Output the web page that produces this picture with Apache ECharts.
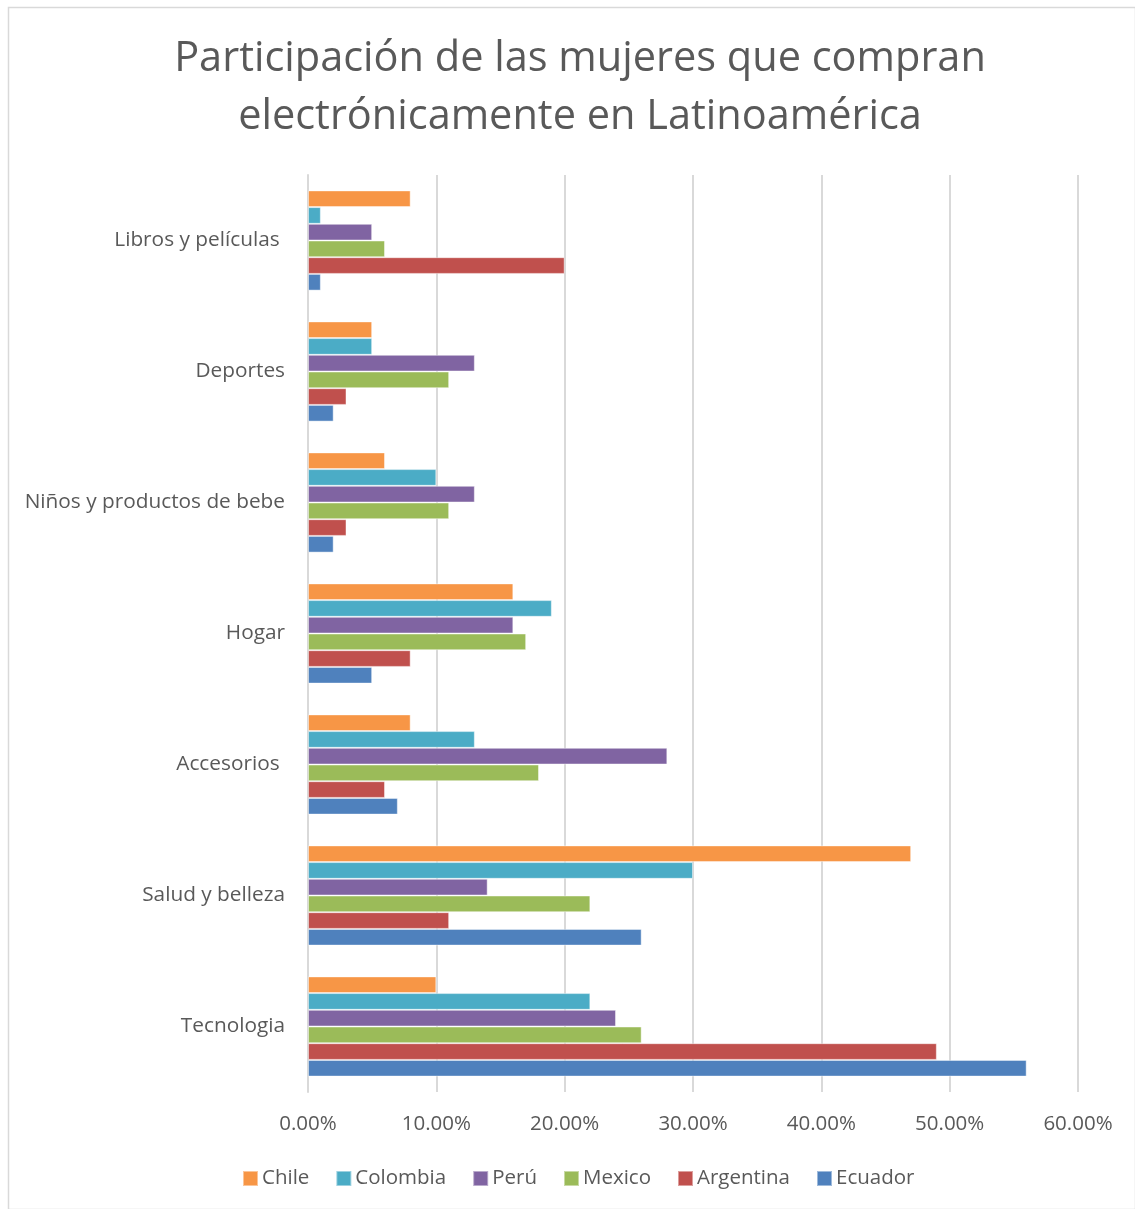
<!DOCTYPE html>
<html>
<head>
<meta charset="utf-8">
<script src="https://cdn.jsdelivr.net/npm/echarts@6/dist/echarts.min.js"></script>
<style>
  html, body { margin: 0; padding: 0; background: #fff; }
  #chart { width: 1135px; height: 1209px; }
</style>
</head>
<body>
<div id="chart"></div>
<script>
// categories bottom -> top
const categories = ['Tecnologia', 'Salud y belleza', 'Accesorios ', 'Hogar', 'Niños y productos de bebe', 'Deportes', 'Libros y películas '];

// values in %, same order as categories
const chile     = [10, 47, 8, 16, 6, 5, 8];
const colombia  = [22, 30, 13, 19, 10, 5, 1];
const peru      = [24, 14, 28, 16, 13, 13, 5];
const mexico    = [26, 22, 18, 17, 11, 11, 6];
const argentina = [49, 11, 6, 8, 3, 3, 20];
const ecuador   = [56, 26, 7, 5, 2, 2, 1];

const xTicks = [0, 10, 20, 30, 40, 50, 60];

const font = '"Open Sans", sans-serif';
const textColor = '#595959';

// first series sits at the top of each group
const seriesDefs = [
  { name: 'Chile',     data: chile,     color: '#F79646' },
  { name: 'Colombia',  data: colombia,  color: '#4BACC6' },
  { name: 'Perú',      data: peru,      color: '#8064A2' },
  { name: 'Mexico',    data: mexico,    color: '#9BBB59' },
  { name: 'Argentina', data: argentina, color: '#C0504D' },
  { name: 'Ecuador',   data: ecuador,   color: '#4F81BD' },
];

const chart = echarts.init(document.getElementById('chart'));
chart.setOption({
  animation: false,
  backgroundColor: '#fff',
  graphic: [{
    type: 'rect', left: 6, top: 5,
    shape: { width: 1127, height: 1202 },
    style: { fill: 'none', stroke: '#d9d9d9', lineWidth: 1.5 },
    silent: true,
  }],
  title: {
    text: 'Participación de las mujeres que compran\nelectrónicamente en Latinoamérica',
    left: 575, textAlign: 'center', top: 25,
    textStyle: { fontFamily: font, fontSize: 41.5, fontWeight: 'normal', color: textColor, lineHeight: 58 },
  },
  legend: {
    data: seriesDefs.map(s => s.name),
    bottom: 15, left: 237,
    icon: 'rect', itemWidth: 15, itemHeight: 15, itemGap: 26,
    textStyle: { fontFamily: font, fontSize: 20.5, color: textColor, padding: [0, 0, 0, -1] },
  },
  grid: { left: 308, right: 57, top: 175, bottom: 117, containLabel: false },
  xAxis: {
    type: 'value', min: 0, max: 60, interval: 10,
    axisLine: { show: false }, axisTick: { show: false },
    splitLine: { lineStyle: { color: '#d9d9d9', width: 2 } },
    axisLabel: {
      fontFamily: font, fontSize: 20.5, color: textColor, margin: 22,
      formatter: v => xTicks.includes(v) ? v.toFixed(2) + '%' : '',
    },
  },
  yAxis: {
    type: 'category', data: categories,
    axisLine: { show: true, lineStyle: { color: '#d9d9d9', width: 2 } },
    axisTick: { show: false },
    axisLabel: { fontFamily: font, fontSize: 20.8, color: textColor, margin: 23 },
  },
  series: seriesDefs.map(s => ({
    name: s.name, type: 'bar', data: s.data,
    barWidth: 16.7, barGap: '0%',
    itemStyle: { color: s.color, borderColor: 'rgba(255,255,255,0.45)', borderWidth: 1 },
  })),
});
</script>
</body>
</html>
